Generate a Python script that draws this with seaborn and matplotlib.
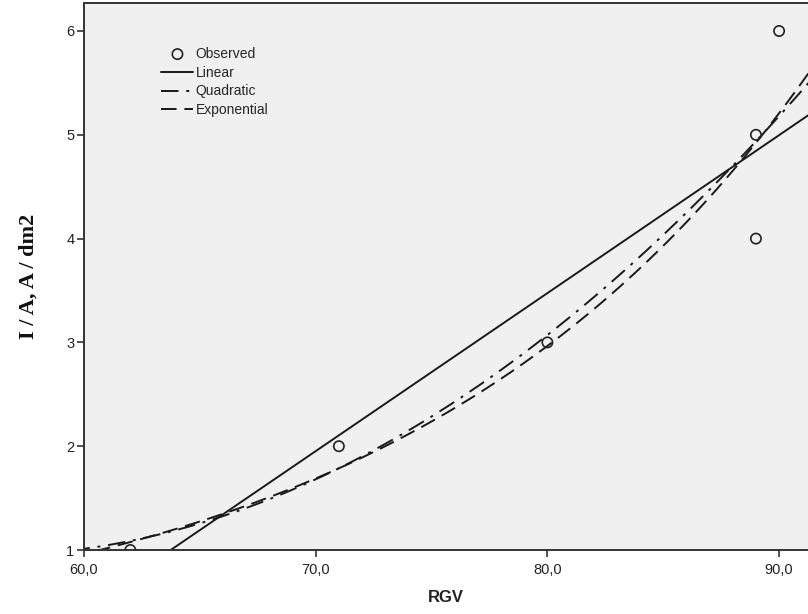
import numpy as np
import pandas as pd
import matplotlib
matplotlib.use("Agg")
import matplotlib.pyplot as plt
import seaborn as sns

# Observed data
rgv = [62, 71, 80, 89, 89, 90]
current = [1, 2, 3, 4, 5, 6]
x_ticks = [60, 70, 80, 90]
x_tick_labels = ["60,0", "70,0", "80,0", "90,0"]
y_ticks = [1, 2, 3, 4, 5, 6]

sns.set_theme(style="white")
plt.rcParams['font.family'] = ['Liberation Sans', 'DejaVu Sans']

fig = plt.figure(figsize=(8.08, 6.14), dpi=100)
ax = fig.add_axes([84/808, 64/614, (808-84)/808, 547/614])
ax.set_facecolor("#f0f0f0")

xs = np.linspace(59.5, 92, 300)
x_arr = np.array(rgv, float)
y_arr = np.array(current, float)
lin = np.polyfit(x_arr, y_arr, 1)
quad = np.polyfit(x_arr, y_arr, 2)
expo = np.polyfit(x_arr, np.log(y_arr), 1)

fits = pd.DataFrame({
    "x": xs,
    "Linear": np.polyval(lin, xs),
    "Quadratic": np.polyval(quad, xs),
    "Exponential": np.exp(np.polyval(expo, xs)),
})

lc = "#1a1a1a"
sns.lineplot(data=fits, x="x", y="Linear", ax=ax, color=lc, lw=1.4,
             label="Linear")
sns.lineplot(data=fits, x="x", y="Quadratic", ax=ax, color=lc, lw=1.4,
             label="Quadratic", dashes=False)
ax.lines[-1].set_linestyle((0, (9, 4, 1.5, 4)))
sns.lineplot(data=fits, x="x", y="Exponential", ax=ax, color=lc, lw=1.4,
             label="Exponential")
ax.lines[-1].set_linestyle((0, (8, 4)))

obs = pd.DataFrame({"RGV": rgv, "I": current})
sns.scatterplot(data=obs, x="RGV", y="I", ax=ax, marker="o", s=55,
                facecolor="none", edgecolor="#222222", linewidth=1.2,
                label="Observed", zorder=5)

ax.set_xlim(60, 60 + (808 - 84) / 23.17)
ax.set_ylim(1, 6 + 28 / 103.8)
ax.set_xticks(x_ticks)
ax.set_xticklabels(x_tick_labels)
ax.set_yticks(y_ticks)
ax.tick_params(axis="both", which="both", direction="out", length=5,
               width=1.2, color="#333333", labelsize=10.5, labelcolor="#222222",
               bottom=True, left=True)
ax.tick_params(axis="x", pad=4)
ax.tick_params(axis="y", pad=2)
for s in ["left", "bottom", "top"]:
    ax.spines[s].set_color("#333333")
    ax.spines[s].set_linewidth(1.4)
ax.spines["right"].set_visible(False)

ax.set_xlabel("RGV", fontsize=12, fontweight="bold", color="#222222", labelpad=10)
ax.set_ylabel("I / A, A / dm2", fontsize=16, fontweight="bold",
              family=["Liberation Serif", "DejaVu Serif"], color="#111111",
              labelpad=20)

handles, labels = ax.get_legend_handles_labels()
order = [labels.index(l) for l in ["Observed", "Linear", "Quadratic", "Exponential"]]
ax.legend([handles[i] for i in order], [labels[i] for i in order],
          loc="upper left", bbox_to_anchor=(0.107, 0.92), frameon=False,
          fontsize=10, handlelength=2.3, handletextpad=0.15,
          labelspacing=0.35, borderaxespad=0, borderpad=0)

fig.savefig("out.png", dpi=100)
